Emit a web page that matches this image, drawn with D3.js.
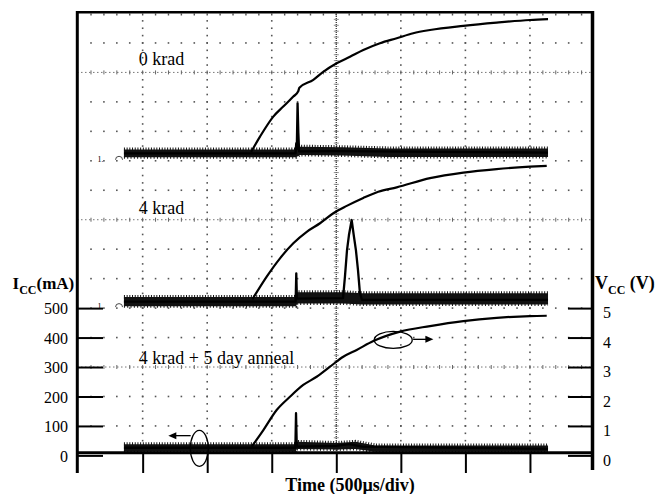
<!DOCTYPE html>
<html>
<head>
<meta charset="UTF-8">
<script src="https://d3js.org/d3.v7.min.js"></script>
<style>
  body { margin: 0; background: #fff; }
  svg text { font-family: "Liberation Serif", "Times New Roman", serif; fill: #000; }
</style>
</head>
<body>
<div id="chart"></div>
<script>
// time in µs (500 µs/div), Vcc in V (1 V/div), Icc in mA (100 mA/div)
const timeTicks = [500, 1000, 1500, 2000, 2500, 3000, 3500];
const iccTicks = [0, 100, 200, 300, 400, 500];
const vccTicks = [0, 1, 2, 3, 4, 5];
const panelNames = ["0 krad", "4 krad", "4 krad + 5 day anneal"];
const panelZero = [10, 5, 0];          // screen division of each panel's 0 level
const labelLevel = [3.25, 3.2, 3.1];   // where the panel name sits (V)

// Vcc traces [t, V]
const vcc0krad = [[1340,0.3],[1409,0.82],[1512,1.5],[1589,1.84],[1667,2.18],[1705,2.36],[1714,2.48],
  [1822,2.75],[1899,3.02],[2003,3.31],[2106,3.53],[2209,3.76],[2338,3.99],[2468,4.16],[2596,4.33],
  [2726,4.44],[2984,4.58],[3242,4.69],[3500,4.78],[3640,4.81]];
const vcc4krad = [[1350,0.3],[1461,1.07],[1564,1.69],[1667,2.2],[1771,2.59],[1874,2.88],[1977,3.22],
  [2081,3.47],[2209,3.74],[2325,3.95],[2468,4.1],[2726,4.41],[2984,4.6],[3242,4.72],[3500,4.8],[3630,4.83]];
const vccAnneal = [[1345,0.3],[1435,0.86],[1538,1.54],[1641,1.99],[1744,2.39],[1848,2.67],[1951,3.01],
  [2054,3.35],[2158,3.58],[2287,3.88],[2494,4.2],[2726,4.39],[2984,4.56],[3242,4.67],[3500,4.73],[3630,4.74]];

// Icc trace centre line [t, mA]
const icc0krad = [[355,25],[1684,25],[1690,60],[1694,40],[1700,195],[1706,95],[1712,32],[2000,33],[3640,28]];
const icc4krad = [[355,22],[1685,22],[1690,118],[1695,32],[2052,34],[2067,107],[2083,197],[2098,248],
  [2119,299],[2137,242],[2152,197],[2168,129],[2183,51],[2199,28],[3640,28]];
const iccAnneal = [[355,26],[1683,26],[1688,143],[1694,30],[2000,32],[2100,38],[2200,30],[3640,22]];

// Icc noise envelope [t, low mA, high mA]
const noise0krad = [[355,12,38],[1688,12,38],[1718,20,48],[2050,18,46],[2400,13,42],[3640,13,42]];
const noise4krad = [[355,6,38],[1688,6,38],[1698,16,54],[2055,16,54],[2200,12,50],[3640,12,50]];
const noiseAnneal = [[355,12,38],[1685,12,38],[1695,22,46],[2000,20,42],[2150,22,46],[2300,12,34],[3640,12,34]];

const W = 656, H = 494;
const frame = {left: 77, right: 592, top: 12, bottom: 453};

const svg = d3.select("#chart").append("svg").attr("width", W).attr("height", H);
svg.append("rect").attr("width", W).attr("height", H).attr("fill", "#fff");

const x = d3.scaleLinear().domain([0, 4000]).range([78.1, 594.5]);
const yDiv = d3.scaleLinear().domain([0, 15]).range([455.4, 13.5]);
const xDiv = d => x(d * 500);

// ---- graticule
const grid = svg.append("g");
const tickRows = panelZero.map(z => z + 3);
for (let k = 1; k <= 14; k++) {
  if (tickRows.includes(k)) continue;
  for (let i = 1; i < 40; i++) {
    grid.append("rect").attr("x", xDiv(i / 5) - 0.8).attr("y", yDiv(k) - 0.8)
      .attr("width", 1.6).attr("height", 1.6).attr("fill", "#555");
  }
}
for (let i = 1; i < 40; i++) {
  grid.append("rect").attr("x", xDiv(i / 5) - 0.7).attr("y", frame.top + 1.5)
    .attr("width", 1.4).attr("height", 2).attr("fill", "#555");
}
for (let j = 1; j <= 7; j++) {
  if (j === 4) continue;
  for (let i = 1; i < 60; i++) {
    grid.append("rect").attr("x", xDiv(j) - 0.8).attr("y", yDiv(i / 4) - 0.8)
      .attr("width", 1.6).attr("height", 1.6).attr("fill", "#555");
  }
}
// centre column
grid.append("line").attr("x1", xDiv(4)).attr("x2", xDiv(4)).attr("y1", frame.top).attr("y2", frame.bottom)
  .attr("stroke", "#444").attr("stroke-width", 1.4).attr("stroke-dasharray", "1 1");
for (let i = 1; i < 75; i++) {
  grid.append("line").attr("x1", xDiv(4) - 2.5).attr("x2", xDiv(4) + 2.5)
    .attr("y1", yDiv(i / 5)).attr("y2", yDiv(i / 5)).attr("stroke", "#777").attr("stroke-width", 0.8);
}
// tick rows
tickRows.forEach(k => {
  grid.append("line").attr("x1", frame.left).attr("x2", frame.right).attr("y1", yDiv(k)).attr("y2", yDiv(k))
    .attr("stroke", "#777").attr("stroke-width", 1).attr("stroke-dasharray", "1.5 2.5");
  for (let i = 1; i < 40; i++) {
    grid.append("line").attr("x1", xDiv(i / 5)).attr("x2", xDiv(i / 5))
      .attr("y1", yDiv(k) - 2).attr("y2", yDiv(k) + 2).attr("stroke", "#666").attr("stroke-width", 1);
  }
});

// ---- traces
const panels = [
  {vcc: vcc0krad, icc: icc0krad, noise: noise0krad},
  {vcc: vcc4krad, icc: icc4krad, noise: noise4krad},
  {vcc: vccAnneal, icc: iccAnneal, noise: noiseAnneal}
];
panels.forEach((p, i) => {
  const zero = panelZero[i];
  const yV = v => yDiv(zero + v);
  const yI = mA => yDiv(zero + mA / 100);
  const g = svg.append("g");

  const band = d3.area().x(d => x(d[0])).y0(d => yI(d[1])).y1(d => yI(d[2]));
  g.append("path").datum(p.noise).attr("d", band).attr("fill", "#111");
  g.append("path").datum(p.noise).attr("d", d3.line().x(d => x(d[0])).y(d => yI(d[2])))
    .attr("fill", "none").attr("stroke", "#111").attr("stroke-width", 4).attr("stroke-dasharray", "1 1.7");
  g.append("path").datum(p.noise).attr("d", d3.line().x(d => x(d[0])).y(d => yI(d[1])))
    .attr("fill", "none").attr("stroke", "#111").attr("stroke-width", 3).attr("stroke-dasharray", "1 2.3");
  g.append("path").datum(p.icc).attr("d", d3.line().x(d => x(d[0])).y(d => yI(d[1])))
    .attr("fill", "none").attr("stroke", "#000").attr("stroke-width", 2.3).attr("stroke-linejoin", "round");

  g.append("path").datum(p.vcc)
    .attr("d", d3.line().x(d => x(d[0])).y(d => yV(d[1])).curve(d3.curveMonotoneX))
    .attr("fill", "none").attr("stroke", "#000").attr("stroke-width", 2.2);

  // channel ground marker of the scope
  if (zero > 0) {
    g.append("text").attr("x", x(150)).attr("y", yV(0) + 1).attr("font-size", 8).text("1.");
    g.append("path").attr("d", `M${x(290)},${yV(0) - 1} a3.5,3.5 0 0 1 7,0`)
      .attr("fill", "none").attr("stroke", "#333").attr("stroke-width", 0.9);
  }

  svg.append("text").attr("x", x(470)).attr("y", yV(labelLevel[i]))
    .attr("font-size", 18).text(panelNames[i]);
});

// ---- axes
const iccScale = d3.scaleLinear().domain([0, 500]).range([yDiv(0), yDiv(5)]);
const vccScale = d3.scaleLinear().domain([0, 5]).range([yDiv(0), yDiv(5)]);

const leftAxis = svg.append("g").attr("transform", `translate(${frame.left},0)`)
  .call(d3.axisLeft(iccScale).tickValues(iccTicks).tickFormat(d3.format("d"))
    .tickSizeInner(-26).tickSizeOuter(0).tickPadding(9));
const rightAxis = svg.append("g").attr("transform", `translate(${frame.right},0)`)
  .call(d3.axisRight(vccScale).tickValues(vccTicks).tickFormat(d3.format("d"))
    .tickSizeInner(-24).tickSizeOuter(0).tickPadding(11));
const bottomAxis = svg.append("g").attr("transform", `translate(0,${frame.bottom})`)
  .call(d3.axisBottom(x).tickValues(timeTicks).tickSizeInner(20).tickSizeOuter(0).tickFormat(""));
[leftAxis, rightAxis, bottomAxis].forEach(a => {
  a.attr("font-family", null);
  a.select(".domain").remove();
  a.selectAll(".tick line").attr("stroke", "#000").attr("stroke-width", 2);
  a.selectAll(".tick text").attr("font-size", 16).attr("fill", "#000");
});
leftAxis.selectAll(".tick text").attr("dy", "0.36em");
rightAxis.selectAll(".tick text").attr("dy", "0.6em");

// frame
svg.append("line").attr("x1", frame.left).attr("x2", frame.right).attr("y1", 12.3).attr("y2", 12.3)
  .attr("stroke", "#000").attr("stroke-width", 2.5);
svg.append("line").attr("x1", 77.3).attr("x2", 77.3).attr("y1", 11).attr("y2", 473)
  .attr("stroke", "#000").attr("stroke-width", 3);
svg.append("line").attr("x1", 592.5).attr("x2", 592.5).attr("y1", 11).attr("y2", 470)
  .attr("stroke", "#000").attr("stroke-width", 3.5);
svg.append("line").attr("x1", frame.left).attr("x2", frame.right).attr("y1", 452.7).attr("y2", 452.7)
  .attr("stroke", "#000").attr("stroke-width", 3);

// ---- annotations (ellipse + arrow telling which axis a trace uses)
const yIa = mA => yDiv(mA / 100);
const yVa = v => yDiv(v);
const notes = [
  {t: 939, y: yIa(24), rx: 9, ry: 18, from: 872, to: 699, ay: yIa(67)},
  {t: 2441, y: yVa(3.92), rx: 19, ry: 8.5, from: 2595, to: 2752, ay: yVa(3.94)}
];
notes.forEach(n => {
  svg.append("ellipse").attr("cx", x(n.t)).attr("cy", n.y).attr("rx", n.rx).attr("ry", n.ry)
    .attr("fill", "none").attr("stroke", "#000").attr("stroke-width", 1.3);
  const x1 = x(n.from), x2 = x(n.to), dir = Math.sign(x2 - x1);
  svg.append("line").attr("x1", x1).attr("x2", x2 - dir * 6).attr("y1", n.ay).attr("y2", n.ay)
    .attr("stroke", "#000").attr("stroke-width", 1.3);
  svg.append("path").attr("d", `M${x2},${n.ay} L${x2 - dir * 8},${n.ay - 3.5} L${x2 - dir * 8},${n.ay + 3.5} Z`)
    .attr("fill", "#000");
});

// ---- axis titles
const iccTitle = svg.append("text").attr("x", 12.5).attr("y", 289).attr("font-weight", "bold").attr("font-size", 17);
iccTitle.append("tspan").text("I");
iccTitle.append("tspan").attr("font-size", 12).attr("dy", 5).text("CC");
iccTitle.append("tspan").attr("dy", -5).text("(mA)");

const vccTitle = svg.append("text").attr("x", 595).attr("y", 289).attr("font-weight", "bold").attr("font-size", 18);
vccTitle.append("tspan").text("V");
vccTitle.append("tspan").attr("font-size", 12).attr("dy", 5).text("CC");
vccTitle.append("tspan").attr("dy", -5).text(" (V)");

svg.append("text").attr("x", 350).attr("y", 491).attr("text-anchor", "middle")
  .attr("font-weight", "bold").attr("font-size", 18).text("Time (500µs/div)");
</script>
</body>
</html>
